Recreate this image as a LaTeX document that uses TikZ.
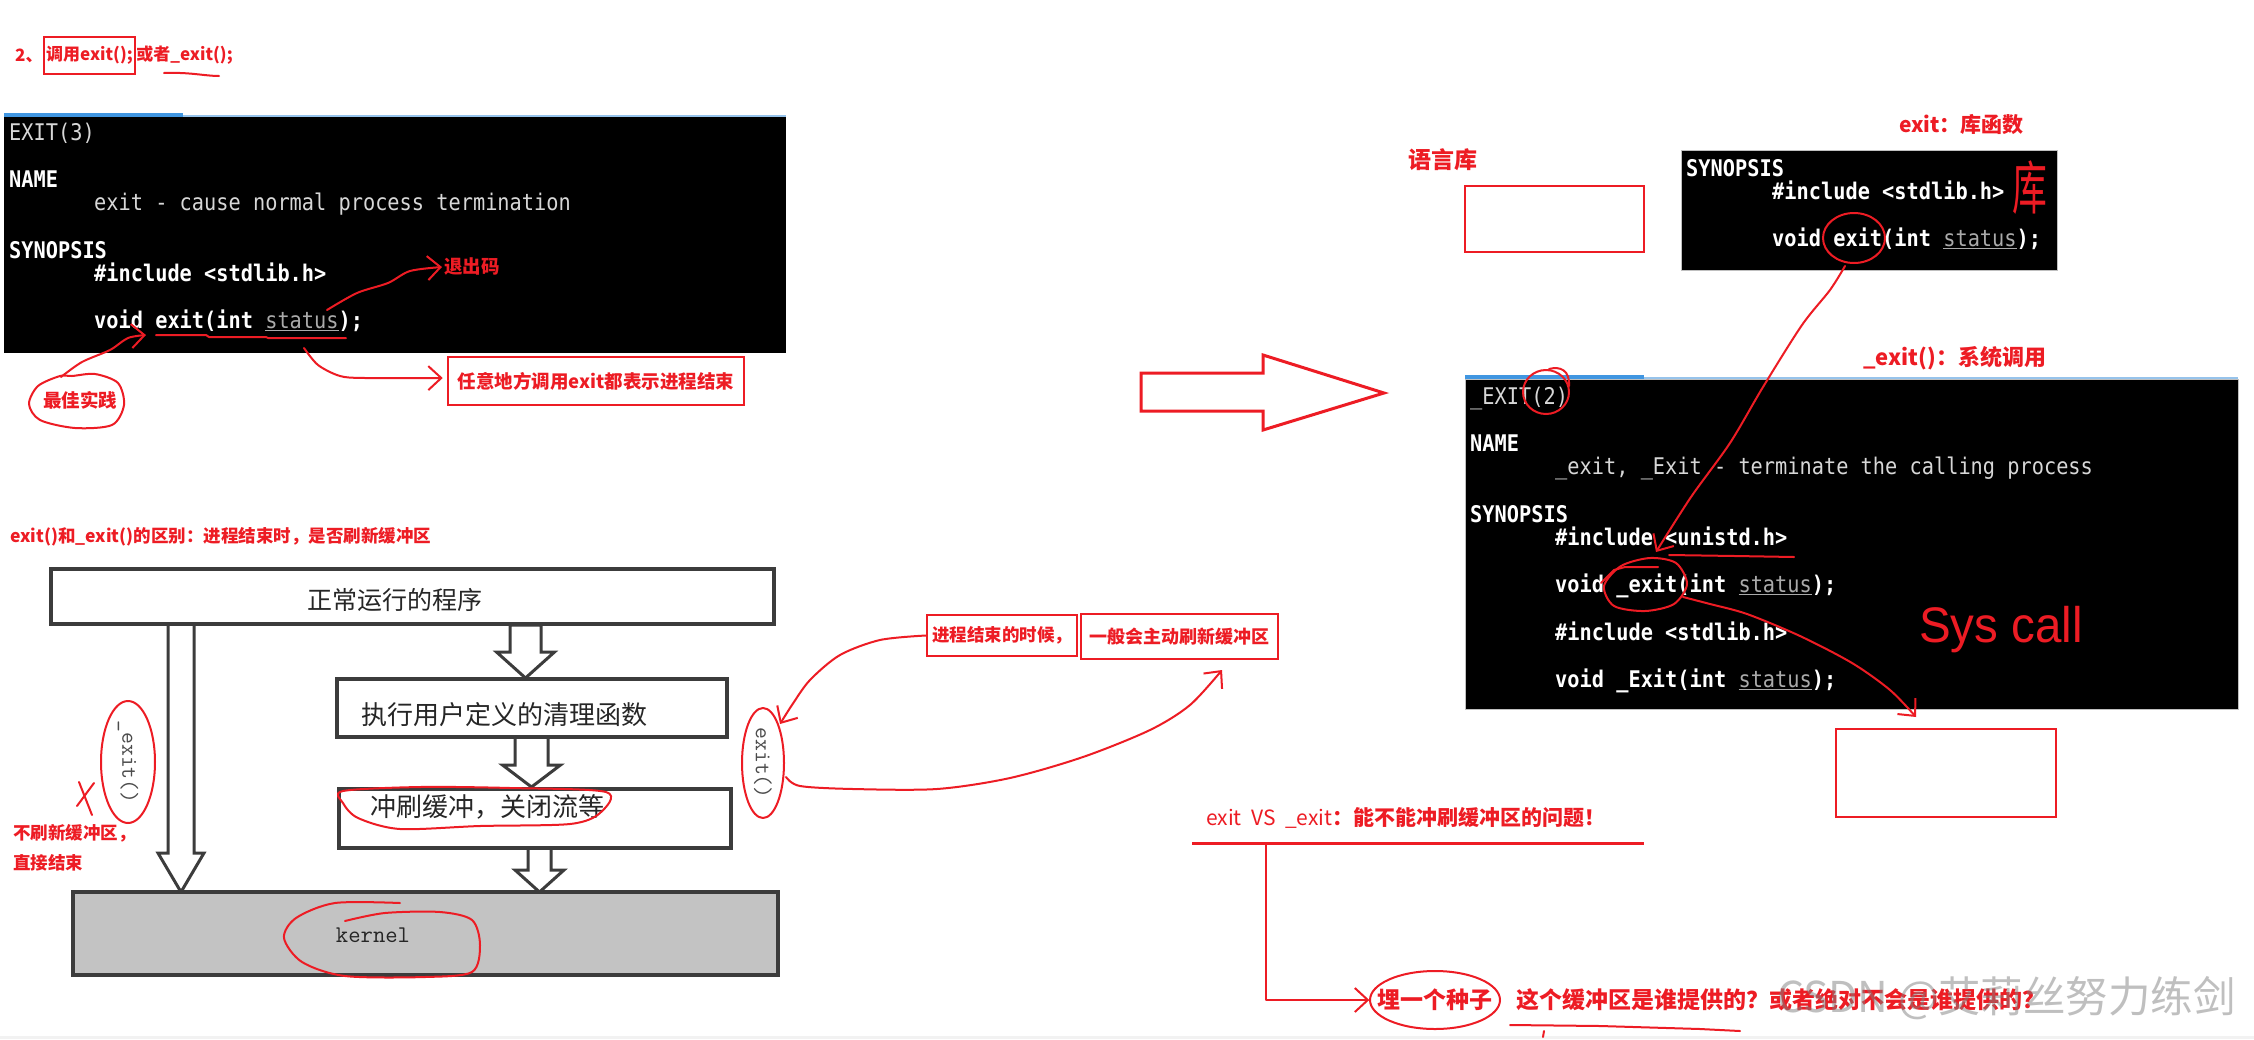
\documentclass[tikz,border=0pt]{standalone}
\usepackage{fontspec}
\setmainfont{Liberation Sans}
\newfontfamily\cjk{Noto Sans CJK SC}
\newfontfamily\termf{DejaVu Sans Mono}
\usetikzlibrary{arrows.meta,calc}
\definecolor{myred}{RGB}{237,28,36}
\definecolor{termfg}{RGB}{215,215,215}
\definecolor{stgray}{RGB}{170,170,170}
\definecolor{blueA}{RGB}{64,150,225}
\definecolor{blueB}{RGB}{150,195,235}
\definecolor{kgray}{RGB}{195,195,195}
\definecolor{flowc}{RGB}{60,60,60}
\newcommand\fs[1]{\fontsize{#1}{#1}\selectfont}
\newcommand\stu{{\mdseries\color{stgray}\underline{status}}}
\newcommand\blkarrow[6]{%
  \draw[farrow] (#1-#5,#2) -- (#1+#5,#2) -- (#1+#5,#3) -- (#1+#6,#3) -- (#1,#4) -- (#1-#6,#3) -- (#1-#5,#3) -- cycle;}
\tikzset{
  term/.style={text=termfg, font=\termf\fs{20.3}, anchor=base west, inner sep=0pt, yscale=1.13},
  termb/.style={term, text=white, font=\termf\bfseries\fs{20.3}},
  rl/.style={text=myred, inner sep=0pt, font=\cjk\bfseries\fs{#1}},
  rbox/.style={draw=myred, line width=2.5, inner sep=0pt},
  ann/.style={draw=myred, line width=2, line cap=round, line join=round},
  barb/.style={-{Straight Barb[length=13pt,width=24pt]}},
  fbox/.style={draw=flowc, line width=3.5, fill=white},
  farrow/.style={draw=flowc, line width=3, fill=white, line join=miter},
  ftxt/.style={text=black!85, font=\cjk\fs{#1}, inner sep=0pt},
  rottxt/.style={rotate=-90, text=black!70, font=\ttfamily\fs{23}, inner sep=0pt}
}
\begin{document}
\begin{tikzpicture}[x=1pt,y=-1pt]
\useasboundingbox (0,0) rectangle (2254,1039);
\fill[white] (0,0) rectangle (2254,1039);
\fill[gray!10] (0,1036) rectangle (2254,1039);

% ---------- title ----------
\node[rl=17, rbox, minimum width=91, minimum height=37] (tb) at (89.5,55.5) {调用exit();};
\node[rl=17, anchor=east] (ta) at (tb.west) {2、};
\node[rl=17, anchor=west] (tc) at (tb.east) {或者\_exit();};
\draw[ann] (164,73) .. controls (190,72) and (205,76) .. (219,76);

% ---------- terminal 1 ----------
\fill[black] (4,117) rectangle (786,353);
\fill[blueA] (4,113) rectangle (183,117);
\draw[blueB, line width=1.5] (183,116) -- (786,116);
\node[term] (e3a) at (9,140) {EXIT(3)};
\node[termb] (e3b) at (9,187.2) {NAME};
\node[term] (e3c) at (94,210.8) {exit - cause normal process termination};
\node[termb] (e3d) at (9,258) {SYNOPSIS};
\node[termb] (e3e) at (94,281.6) {\#include <stdlib.h>};
\node[termb] (e3f) at (94,328.8) {void exit(int \stu);};

\node[rl=18.5, anchor=west] (tcm) at (444,267) {退出码};
\coordinate (tcmin) at ($(tcm.west)+(-2,0)$);
\draw[ann, barb] plot[smooth] coordinates {(327,310) (357,293) (388,283) (410,271) (tcmin)};
\draw[ann] (156,335) -- (206,335) -- (209,337) -- (266,337) -- (268,338) -- (346,338);

\node[rl=18.5] (zj) at (80,400) {最佳实践};
\draw[ann] plot[smooth cycle] coordinates {(60,376) (38,386) (29,404) (40,420) (75,428) (112,425) (124,405) (118,383) (95,374) (72,376)};
\draw[ann, barb] plot[smooth] coordinates {(61,377) (82,362) (110,350) (128,338) (146,335)};

\node[rl=18.5, rbox, minimum width=296, minimum height=48] (anyb) at (596,381) {任意地方调用exit都表示进程结束};
\coordinate (anyin) at ($(anyb.west)+(-4,-3)$);
\draw[ann, barb] plot[smooth] coordinates {(304,348) (318,365) (340,376) (365,378) (anyin)};

% ---------- big hollow arrow ----------
\draw[myred, line width=3, line join=miter] (1141,373) -- (1263,373) -- (1263,355) -- (1384,393) -- (1263,430) -- (1263,411) -- (1141,411) -- cycle;

% ---------- flowchart ----------
\node[rl=17.5, anchor=west] (ft) at (10,537) {exit()和\_exit()的区别：进程结束时，是否刷新缓冲区};
\blkarrow{181}{624}{853}{892}{13}{23}
\blkarrow{525.5}{625}{652}{678}{15.5}{29}
\blkarrow{531.5}{737}{765}{787}{16.5}{29}
\blkarrow{539.5}{848}{870}{892}{11.5}{24.5}
\node[fbox, minimum width=723, minimum height=55] (b1) at (412.5,596.5) {};
\node[fbox, minimum width=390, minimum height=58] (b2) at (532,708) {};
\node[fbox, minimum width=392, minimum height=59] (b3) at (535,818.5) {};
\node[fbox, fill=kgray, minimum width=705, minimum height=83] (bk) at (425.5,933.5) {};
\node[ftxt=25] (b1t) at (395,600) {正常运行的程序};
\node[ftxt=26] (b2t) at (504,715) {执行用户定义的清理函数};
\node[ftxt=26, anchor=west] (b3t) at (370,807) {冲刷缓冲，关闭流等};
\node[text=black!85, font=\ttfamily\fs{24}, inner sep=0pt] (kt) at (373,935) {kernel};
\node[rottxt] (ex1) at (128,762) {\_exit()};
\node[rottxt] (ex2) at (763,763) {exit()};

\draw[ann] (ex1.center) ellipse [x radius=27, y radius=61];
\draw[ann] (79,782) -- (92,815);
\draw[ann] (77,806) -- (94,783);
\node[rl=17.5, anchor=west] (nb1) at (13,833) {不刷新缓冲区，};
\node[rl=17.5, anchor=west] (nb2) at (13,863) {直接结束};
\draw[ann] (ex2.center) ellipse [x radius=21, y radius=55];
\draw[ann] plot[smooth cycle] coordinates {(343,791) (420,787) (510,788) (606,792) (600,813) (570,824) (480,826) (400,829) (358,818) (343,803)};
\draw[ann] plot[smooth] coordinates {(400,903) (335,903) (296,918) (284,938) (302,962) (345,976) (425,977) (472,972) (480,945) (472,920) (440,912) (385,913) (345,921)};

\node[rl=17.5, rbox, minimum width=150, minimum height=41] (jc) at (1002,635.5) {进程结束的时候，};
\node[rl=18, rbox, minimum width=197, minimum height=45] (yb) at (1179.5,636.5) {一般会主动刷新缓冲区};
\draw[ann, barb] plot[smooth] coordinates {(jc.west) (880,640) (840,655) (810,680) (792,705) (780,724)};
\draw[ann, barb] plot[smooth] coordinates {(786,777) (800,786) (853,789) (937,789) (1010,778) (1083,757) (1150,730) (1190,705) (1222,670)};

% ---------- right: library ----------
\node[rl=23, anchor=west] (yyk) at (1408,160) {语言库};
\node[rbox, minimum width=179, minimum height=66] (lbox) at (1554.5,219) {};
\node[rl=21, anchor=west] (kh) at (1899,125) {exit：库函数};
\filldraw[fill=black, draw=gray!50, line width=1] (1681,150) rectangle (2057,270);
\node[termb] (s3a) at (1686,176) {SYNOPSIS};
\node[termb] (s3b) at (1772,199.6) {\#include <stdlib.h>};
\node[termb] (s3c) at (1772,246.8) {void exit(int \stu);};
\node[text=myred, font=\cjk\fs{58}, xscale=0.6, inner sep=0pt] (ku) at (2030,188) {库};
\draw[ann] (1854,238) ellipse [x radius=31, y radius=25];

% ---------- right: system call ----------
\node[rl=22, anchor=west] (xt) at (1863,358) {\_exit()：系统调用};
\filldraw[fill=black, draw=gray!50, line width=1] (1465,379) rectangle (2238,709);
\fill[blueA] (1465,375) rectangle (1644,379);
\draw[blueB, line width=1.5] (1644,378) -- (2238,378);
\node[term] (s2a) at (1470,404) {\_EXIT(2)};
\node[termb] (s2b) at (1470,451.2) {NAME};
\node[term] (s2c) at (1555,474.8) {\_exit, \_Exit - terminate the calling process};
\node[termb] (s2d) at (1470,522) {SYNOPSIS};
\node[termb] (s2e) at (1555,545.6) {\#include <unistd.h>};
\node[termb] (s2f) at (1555,592.8) {void \_exit(int \stu);};
\node[termb] (s2g) at (1555,640) {\#include <stdlib.h>};
\node[termb] (s2h) at (1555,687.2) {void \_Exit(int \stu);};

\draw[ann] (1546,392) ellipse [x radius=23, y radius=22];
\draw[ann] (1549,369) .. controls (1560,366) and (1570,370) .. (1569,386);
\draw[ann, barb] plot[smooth] coordinates {(1845,266) (1830,290) (1802,325) (1763,387) (1730,443) (1691,497) (1656,552)};
\draw[ann] (1669,555) -- (1735,556) -- (1794,557);
\draw[ann] plot[smooth cycle] coordinates {(1650,558) (1621,566) (1604,586) (1614,606) (1645,611) (1674,604) (1687,584) (1676,563)};
\draw[ann] (1601,583) -- (1614,570) -- (1625,567) -- (1658,567);
\node[rbox, minimum width=220, minimum height=88] (sbox) at (1946,773) {};
\draw[ann, barb] plot[smooth] coordinates {(1683,597) (1710,604) (1747,614) (1800,636) (1852,663) (1890,690) (1916,717)};
\node[text=myred, font=\fs{50}, anchor=base west, inner sep=0pt, xscale=0.95] (sc) at (1919,642) {Sys call};

% ---------- bottom ----------
\node[text=myred, font=\cjk\fs{21}, anchor=west, inner sep=0pt] (vs) at (1206,818) {exit\ \ VS\ \ \_exit{\bfseries ：能不能冲刷缓冲区的问题！}};
\draw[myred, line width=3] (1192,843) -- (1644,843);
\node[rl=23] (mz) at (1435,1000) {埋一个种子};
\draw[ann] (mz.center) ellipse [x radius=65, y radius=29];
\coordinate (mzin) at ($(mz.west)+(-8,0)$);
\draw[ann, barb] (1266,845) -- (1266,1000) -- (mzin);
\node[rl=23, anchor=west] (q) at (1516,1000) {这个缓冲区是谁提供的？或者绝对不会是谁提供的？};
\draw[ann] (1510,1025) -- (1600,1026) -- (1700,1029) -- (1740,1031);
\draw[ann] (1544,1031) -- (1543,1037);
\node[text=gray, opacity=0.5, font=\cjk\fs{42.5}, anchor=west, inner sep=0pt] (wm) at (1777,998) {CSDN @艾莉丝努力练剑};
\end{tikzpicture}
\end{document}
